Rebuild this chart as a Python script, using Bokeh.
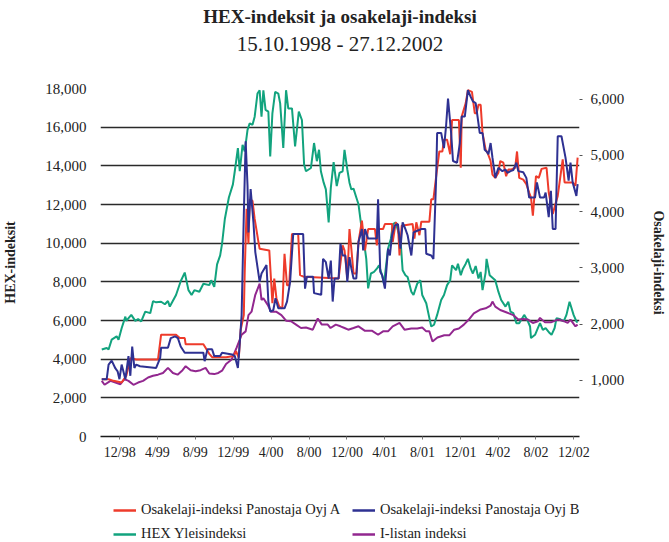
import pandas as pd
from bokeh.plotting import figure
from bokeh.layouts import column
from bokeh.models import (Range1d, LinearAxis, FixedTicker, NumeralTickFormatter,
                          CustomJSTickFormatter, Title, Legend, LegendItem)
from bokeh.embed import file_html
from bokeh.resources import INLINE

FONT = "Liberation Serif"

# ---------------- data ----------------
hex_dates = ["1998-10-18","1998-11-03","1998-11-09","1998-11-19","1998-12-05","1998-12-11","1998-12-21",
 "1999-01-02","1999-01-05","1999-01-21","1999-02-03","1999-02-12","1999-02-22","1999-03-07","1999-03-23",
 "1999-04-01","1999-04-11","1999-04-27","1999-05-09","1999-05-19","1999-05-25","1999-06-14","1999-06-29",
 "1999-07-12","1999-07-24","1999-08-03","1999-08-12","1999-08-28","1999-09-10","1999-09-29","1999-10-05",
 "1999-10-15","1999-10-24","1999-11-03","1999-11-09","1999-11-18","1999-12-01","1999-12-14","1999-12-20",
 "1999-12-30","2000-01-05","2000-01-14","2000-01-21","2000-01-30","2000-02-06","2000-02-15","2000-02-22",
 "2000-03-02","2000-03-09","2000-03-15","2000-03-21","2000-03-28","2000-04-06","2000-04-12","2000-04-19",
 "2000-04-28","2000-05-08","2000-05-14","2000-05-24","2000-06-02","2000-06-09","2000-06-21","2000-07-01",
 "2000-07-13","2000-07-23","2000-07-30","2000-08-05","2000-08-21","2000-08-31","2000-09-09","2000-09-16",
 "2000-09-22","2000-10-01","2000-10-08","2000-10-17","2000-10-24","2000-11-02","2000-11-12","2000-11-21",
 "2000-12-01","2000-12-07","2000-12-16","2000-12-23","2000-12-29","2001-01-05","2001-01-14","2001-01-21",
 "2001-01-30","2001-02-05","2001-02-15","2001-02-21","2001-03-02","2001-03-12","2001-03-21","2001-03-28",
 "2001-04-07","2001-04-13","2001-04-26","2001-05-05","2001-05-12","2001-05-21","2001-05-28","2001-06-05",
 "2001-06-12","2001-06-21","2001-06-28","2001-07-10","2001-07-17","2001-07-29","2001-08-08","2001-08-14",
 "2001-08-27","2001-09-05","2001-09-12","2001-09-21","2001-10-01","2001-10-14","2001-10-23","2001-11-02",
 "2001-11-12","2001-11-18","2001-12-01","2001-12-07","2001-12-16","2001-12-23","2002-01-01","2002-01-08",
 "2002-01-17","2002-01-24","2002-02-02","2002-02-11","2002-02-18","2002-02-24","2002-03-06","2002-03-09",
 "2002-03-19","2002-04-06","2002-04-16","2002-04-25","2002-05-09","2002-05-18","2002-05-25","2002-06-03",
 "2002-06-13","2002-06-22","2002-07-08","2002-07-18","2002-07-27","2002-07-30","2002-08-12","2002-08-21",
 "2002-08-28","2002-09-06","2002-09-15","2002-09-28","2002-10-04","2002-10-14","2002-10-20","2002-10-30",
 "2002-11-12","2002-11-21","2002-12-01","2002-12-14","2002-12-23","2002-12-27"]
hex_values = [4500,4580,4500,5010,5180,5010,5600,
 6200,5980,6290,5980,6080,5950,6460,6380,
 7000,6940,6970,6840,7010,6720,7320,8030,
 8480,7570,7320,7570,7490,7900,7830,8080,
 7740,8900,9370,9960,11250,12360,13040,13720,
 14920,13720,15090,14750,15860,16200,16120,16540,
 17740,17910,16540,17910,16890,16800,14490,16710,
 17830,17740,17230,14920,17910,16970,16970,15000,
 16800,16370,14070,13720,13890,15180,14240,14830,
 13720,13130,12780,11070,12870,14190,12950,13640,
 13720,14830,13810,13130,12780,12820,12360,12010,
 10900,10390,9190,7660,8430,8510,8680,8850,
 8340,7910,9710,10220,10990,11070,10650,10220,
 8600,8340,8250,7490,7320,7910,8080,7320,
 6890,6200,5690,5780,6290,7060,7320,7830,
 8080,8850,8600,8940,8340,8680,8940,9190,
 8680,8430,8820,8170,8510,7570,8480,9190,
 8340,8080,7490,7060,6720,6970,6460,6380,
 5860,5860,6290,6030,5690,5090,5260,5610,
 5860,5520,5610,5350,5260,5610,6120,6080,
 5950,6290,6970,6290,5950,5900]

ilista_dates = ["1998-10-18","1998-10-27","1998-11-15","1998-12-01","1998-12-17","1998-12-30","1999-01-12",
 "1999-01-28","1999-02-12","1999-02-28","1999-03-16","1999-04-01","1999-04-17","1999-05-03","1999-05-19",
 "1999-06-04","1999-06-19","1999-07-05","1999-07-15","1999-07-31","1999-08-16","1999-09-01","1999-09-17",
 "1999-09-29","1999-10-15","1999-10-28","1999-11-09","1999-11-22","1999-12-10","1999-12-26","2000-01-11",
 "2000-01-24","2000-02-02","2000-02-12","2000-02-24","2000-03-09","2000-03-15","2000-03-21","2000-04-03",
 "2000-04-15","2000-05-01","2000-05-18","2000-06-02","2000-06-18","2000-07-04","2000-07-20","2000-08-05",
 "2000-08-27","2000-09-12","2000-09-25","2000-10-14","2000-10-23","2000-11-09","2000-11-24","2000-12-07",
 "2000-12-19","2001-01-05","2001-01-21","2001-02-11","2001-03-06","2001-03-25","2001-04-10","2001-04-26",
 "2001-05-11","2001-06-02","2001-06-18","2001-07-10","2001-07-29","2001-08-14","2001-08-27","2001-09-06",
 "2001-09-16","2001-10-02","2001-10-24","2001-11-09","2001-11-25","2001-12-10","2001-12-26","2002-01-11",
 "2002-01-27","2002-02-18","2002-03-06","2002-03-22","2002-03-28","2002-04-06","2002-04-22","2002-05-11",
 "2002-06-03","2002-06-19","2002-07-05","2002-07-20","2002-08-05","2002-08-21","2002-08-28","2002-09-13",
 "2002-10-02","2002-10-24","2002-11-09","2002-11-25","2002-12-04","2002-12-20","2002-12-27"]
ilista_values = [990,920,990,960,930,1020,990,
 920,960,990,1050,1080,1100,1130,1220,
 1130,1100,1180,1250,1180,1160,1180,1220,
 1120,1110,1130,1170,1290,1370,1580,1810,
 1870,2160,2220,2520,2720,2430,2460,2350,
 2220,2220,2160,2060,2050,1990,1930,1940,
 1900,2100,1990,1990,1930,1990,1960,1930,
 1900,1930,1960,1880,1880,1810,1870,1870,
 1960,2020,1900,1920,1920,1940,1870,1870,
 1690,1760,1800,1800,1900,1920,1990,2080,
 2190,2260,2280,2330,2400,2310,2250,2210,
 2160,2080,2090,2080,2020,2050,2110,2030,
 2030,2080,2060,2020,2080,1960,1990]

osa_a_dates = ["1998-10-18","1998-11-09","1998-11-25","1998-12-21","1999-01-05","1999-01-18","1999-02-06",
 "1999-04-17","1999-04-27","1999-06-14","1999-06-26","1999-07-12","1999-07-15","1999-09-10","1999-09-29",
 "1999-10-08","1999-11-22","1999-12-17","1999-12-24","2000-01-02","2000-01-08","2000-01-18","2000-01-21",
 "2000-01-27","2000-02-02","2000-02-06","2000-02-15","2000-02-22","2000-03-06","2000-03-09","2000-04-09",
 "2000-04-19","2000-04-25","2000-05-02","2000-05-11","2000-05-21","2000-05-28","2000-06-05","2000-06-12",
 "2000-06-21","2000-07-11","2000-07-17","2000-07-30","2000-11-18","2000-12-01","2000-12-07","2000-12-16",
 "2000-12-23","2000-12-29","2001-01-05","2001-01-14","2001-01-21","2001-02-01","2001-02-11","2001-02-21",
 "2001-03-15","2001-03-21","2001-03-25","2001-04-10","2001-04-16","2001-05-09","2001-05-11","2001-05-21",
 "2001-05-28","2001-06-02","2001-06-09","2001-07-14","2001-07-20","2001-07-26","2001-08-05","2001-08-11",
 "2001-09-06","2001-09-12","2001-09-19","2001-09-28","2001-10-08","2001-10-18","2001-10-23","2001-11-02",
 "2001-11-12","2001-11-18","2001-12-10","2001-12-16","2001-12-19","2002-01-01","2002-01-08","2002-01-21",
 "2002-01-30","2002-02-05","2002-02-11","2002-02-18","2002-02-24","2002-03-06","2002-03-12","2002-03-22",
 "2002-03-28","2002-04-06","2002-04-16","2002-04-22","2002-05-02","2002-05-11","2002-05-18","2002-05-28",
 "2002-06-09","2002-06-15","2002-06-22","2002-07-05","2002-07-15","2002-07-24","2002-07-30","2002-08-05",
 "2002-08-15","2002-08-24","2002-09-02","2002-09-18","2002-09-25","2002-10-08","2002-10-24","2002-11-09",
 "2002-11-15","2002-12-11","2002-12-20","2002-12-27"]
osa_a_values = [1020,1020,990,960,1080,1390,1370,
 1370,1810,1810,1750,1750,1640,1640,1470,
 1410,1410,1430,1520,1400,1900,2160,2930,
 4050,3430,4220,4190,3870,3430,3340,3310,
 2370,2810,2460,2310,2280,3250,2690,2690,
 3600,3600,2870,2840,2810,3400,3310,2810,
 3690,3340,2900,2900,3460,3840,3310,3690,
 3690,3400,3690,3690,3780,3780,3460,3810,
 3750,3220,3750,3780,3520,3810,3580,3820,
 3820,4220,4220,4630,5070,5070,5280,5280,
 5020,5630,5630,4780,5690,5930,6160,6130,
 5750,5750,5900,5900,5400,5100,5050,4900,
 4660,4600,4690,4900,4870,4630,4750,4750,
 4780,5070,4600,4570,4490,4340,4250,3930,
 4630,4600,4760,4780,4340,3960,4280,4930,
 4520,4520,4460,4960]

osa_b_dates = ["1998-10-18","1998-11-03","1998-11-09","1998-11-19","1998-12-01","1998-12-08","1998-12-14",
 "1998-12-21","1998-12-28","1999-01-02","1999-01-12","1999-01-18","1999-01-24","1999-01-31","1999-02-06",
 "1999-02-18","1999-04-11","1999-04-24","1999-04-27","1999-05-19","1999-05-28","1999-06-11","1999-06-20",
 "1999-06-29","1999-07-12","1999-09-10","1999-09-14","1999-09-23","1999-10-08","1999-10-15","1999-11-03",
 "1999-11-09","1999-12-11","1999-12-20","1999-12-30","2000-01-05","2000-01-11","2000-01-18","2000-01-24",
 "2000-01-30","2000-02-02","2000-02-09","2000-02-18","2000-02-24","2000-03-09","2000-03-15","2000-03-31",
 "2000-04-06","2000-04-12","2000-04-22","2000-04-29","2000-05-08","2000-05-28","2000-06-05","2000-06-15",
 "2000-06-25","2000-07-27","2000-08-02","2000-08-08","2000-08-28","2000-08-31","2000-09-23","2000-09-29",
 "2000-10-08","2000-10-17","2000-10-24","2000-10-30","2000-11-05","2000-11-18","2000-11-24","2000-12-01",
 "2000-12-10","2000-12-16","2000-12-23","2000-12-29","2001-01-05","2001-01-14","2001-01-21","2001-02-01",
 "2001-02-05","2001-02-11","2001-02-21","2001-03-21","2001-03-25","2001-04-01","2001-04-07","2001-04-16",
 "2001-04-26","2001-05-02","2001-05-09","2001-05-17","2001-05-28","2001-06-05","2001-06-12","2001-06-21",
 "2001-06-28","2001-07-10","2001-07-17","2001-07-29","2001-08-11","2001-08-24","2001-08-27","2001-09-12",
 "2001-09-19","2001-09-28","2001-10-01","2001-10-14","2001-10-23","2001-10-30","2001-11-05","2001-11-15",
 "2001-11-21","2001-12-04","2001-12-13","2001-12-19","2001-12-29","2002-01-08","2002-01-17","2002-01-24",
 "2002-02-02","2002-02-08","2002-02-15","2002-02-24","2002-03-03","2002-03-09","2002-03-15","2002-03-22",
 "2002-03-28","2002-04-06","2002-04-16","2002-04-29","2002-05-09","2002-05-15","2002-05-25","2002-06-03",
 "2002-06-13","2002-06-19","2002-07-05","2002-07-15","2002-07-24","2002-08-12","2002-08-18","2002-08-28",
 "2002-09-10","2002-09-15","2002-09-25","2002-10-02","2002-10-08","2002-10-17","2002-10-24","2002-11-05",
 "2002-11-18","2002-11-28","2002-12-04","2002-12-11","2002-12-23","2002-12-27"]
osa_b_values = [1020,1020,1280,1350,1210,1160,1020,
 1280,1130,1020,1430,1080,1600,1220,1280,
 1250,1220,1400,1580,1580,1750,1780,1750,
 1600,1490,1490,1340,1550,1550,1430,1430,
 1490,1460,1430,1220,1660,2160,3930,5250,
 4460,3630,4400,3810,3280,2750,2900,3050,
 2400,2220,2250,2460,2280,2280,2400,2750,
 3600,3600,2630,2840,2840,2550,2520,3160,
 3100,2810,3130,2400,2810,2810,3430,3220,
 3220,2750,3190,2990,2810,2810,3460,3690,
 3310,3690,3520,3520,4220,2930,2870,2630,
 3340,3220,3580,3750,3780,3340,3810,3690,
 3580,3220,3630,3660,3690,3690,3250,3220,
 3160,4630,5400,5400,5130,5540,6010,5400,
 4900,4870,5220,5690,5690,6160,6040,5960,
 5930,5690,5400,5400,5100,5070,5020,5220,
 4960,4600,4780,4720,4750,4690,4720,4740,
 4870,4720,4700,4600,4250,4250,4520,4250,
 4250,4340,3900,4370,3690,3690,5340,5340,
 4960,4550,4870,4520,4280,4490]

tick_dates = ["1998-12-15","1999-04-15","1999-08-15","1999-12-15","2000-04-15","2000-08-15","2000-12-15",
              "2001-04-15","2001-08-15","2001-12-15","2002-04-15","2002-08-15","2002-12-15"]
left_ticks = [0, 2000, 4000, 6000, 8000, 10000, 12000, 14000, 16000, 18000]
right_ticks = [1000, 2000, 3000, 4000, 5000, 6000]

series_names = ["Osakelaji-indeksi Panostaja Oyj A", "Osakelaji-indeksi Panostaja Oyj B",
                "HEX Yleisindeksi", "I-listan indeksi"]
series_colors = ["#ee3b2b", "#2e3192", "#12a37e", "#92278f"]
series_data = [(osa_a_dates, osa_a_values), (osa_b_dates, osa_b_values),
               (hex_dates, hex_values), (ilista_dates, ilista_values)]

# ---------------- main chart ----------------
def ms(d):
    return pd.Timestamp(d).value / 1e6

x_start = pd.Timestamp("1998-10-14")
x_end = pd.Timestamp("2003-01-02")

p = figure(width=669, height=486, x_axis_type="datetime",
           x_range=Range1d(x_start, x_end), y_range=Range1d(0, 18000),
           output_backend="svg", toolbar_location=None,
           min_border_left=97, min_border_right=86, min_border_top=85, min_border_bottom=50)
p.outline_line_color = None
p.background_fill_color = "white"
p.extra_y_ranges = {"right": Range1d(0, 6190)}

p.line(pd.to_datetime(hex_dates), hex_values, color=series_colors[2], line_width=2)
p.line(pd.to_datetime(ilista_dates), ilista_values, color=series_colors[3], line_width=2,
       y_range_name="right")
p.line(pd.to_datetime(osa_a_dates), osa_a_values, color=series_colors[0], line_width=2,
       y_range_name="right")
p.line(pd.to_datetime(osa_b_dates), osa_b_values, color=series_colors[1], line_width=2,
       y_range_name="right")

p.xgrid.visible = False
p.ygrid.ticker = FixedTicker(ticks=left_ticks)
p.ygrid.grid_line_color = "#2a2a2a"
p.ygrid.grid_line_width = 1.6

xa = p.xaxis[0]
xa.ticker = FixedTicker(ticks=[ms(d) for d in tick_dates])
xa.formatter = CustomJSTickFormatter(code="""
const d = new Date(tick);
return (d.getUTCMonth() + 1) + '/' + String(d.getUTCFullYear()).slice(2);
""")
xa.axis_line_color = "#1a1a1a"
xa.axis_line_width = 1.6
xa.major_tick_line_color = "#777777"
xa.major_tick_out = 3
xa.major_tick_in = 0
xa.minor_tick_line_color = None
xa.major_label_standoff = 5
xa.major_label_text_font = FONT
xa.major_label_text_font_size = "14px"
xa.major_label_text_color = "#222222"

ya = p.yaxis[0]
ya.ticker = FixedTicker(ticks=left_ticks)
ya.formatter = NumeralTickFormatter(format="0,0")
ya.axis_line_color = None
ya.major_tick_line_color = None
ya.minor_tick_line_color = None
ya.major_label_standoff = 8
ya.major_label_text_font = FONT
ya.major_label_text_font_size = "15px"
ya.major_label_text_color = "#222222"
ya.axis_label = "HEX-indeksit"
ya.axis_label_text_font = FONT
ya.axis_label_text_font_style = "bold"
ya.axis_label_text_font_size = "14px"
ya.axis_label_text_color = "#222222"
ya.axis_label_standoff = 24

ra = LinearAxis(y_range_name="right", ticker=FixedTicker(ticks=right_ticks),
                formatter=NumeralTickFormatter(format="0,0"))
ra.axis_line_color = None
ra.major_tick_line_color = "#555555"
ra.major_tick_out = 3
ra.major_tick_in = 0
ra.minor_tick_line_color = None
ra.major_label_standoff = 8
ra.major_label_text_font = FONT
ra.major_label_text_font_size = "15px"
ra.major_label_text_color = "#222222"
ra.axis_label = "Osakelaji-indeksi"
ra.axis_label_text_font = FONT
ra.axis_label_text_font_style = "bold"
ra.axis_label_text_font_size = "14px"
ra.axis_label_text_color = "#222222"
ra.axis_label_standoff = 24
p.add_layout(ra, "right")

# titles (first added sits closest to the plot)
p.add_layout(Title(text=" ", text_font_size="1px", standoff=30), "above")
p.add_layout(Title(text="15.10.1998 - 27.12.2002", align="center", text_font=FONT,
                   text_font_size="21px", text_font_style="normal", text_color="#222222",
                   standoff=0), "above")
p.add_layout(Title(text="HEX-indeksit ja osakelaji-indeksi", align="center", text_font=FONT,
                   text_font_size="19px", text_font_style="bold", text_color="#222222",
                   standoff=6), "above")

# ---------------- legend strip ----------------
lg = figure(width=669, height=56, x_range=Range1d(0, 1), y_range=Range1d(0, 1),
            x_axis_location=None, y_axis_location=None,
            output_backend="svg", toolbar_location=None, min_border=0)
lg.grid.visible = False
lg.outline_line_color = None
# key renderers carry the series (they fall outside this strip's ranges, only their legend keys show)
keys = [lg.line(pd.to_datetime(d), v, color=c, line_width=2.5)
        for (d, v), c in zip(series_data, series_colors)]

def legend_row(items, loc):
    return Legend(items=items, location=loc, orientation="horizontal",
                  label_text_font=FONT, label_text_font_size="14.5px", label_text_color="#222222",
                  glyph_width=23, glyph_height=16, label_height=16, label_width=206,
                  label_standoff=5, spacing=5, padding=0, margin=0,
                  border_line_alpha=0, background_fill_alpha=0)

lg.add_layout(legend_row([LegendItem(label=series_names[0], renderers=[keys[0]]),
                          LegendItem(label=series_names[1], renderers=[keys[1]])], (13, 24)))
lg.add_layout(legend_row([LegendItem(label=series_names[2], renderers=[keys[2]]),
                          LegendItem(label=series_names[3], renderers=[keys[3]])], (13, 0)))

layout = column(p, lg, spacing=0)
open("out.html", "w").write(file_html(layout, INLINE))
